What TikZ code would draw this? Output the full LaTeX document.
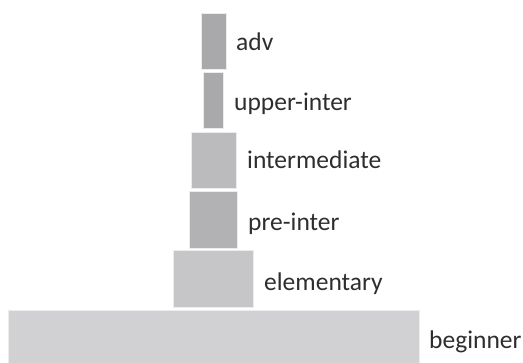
\documentclass[tikz,border=0pt]{standalone}
\usepackage{fontspec}
\setmainfont{Carlito}
\begin{document}
\begin{tikzpicture}[x=1bp,y=-1bp,
  blk/.style={draw=white!85!gray, line width=0.6bp, inner sep=0pt, outer sep=0pt},
  lbl/.style={anchor=base west, inner sep=0pt, text=black!82, font=\fontsize{25.5bp}{28bp}\selectfont}]
\useasboundingbox (0,0) rectangle (523,362);
\definecolor{cA}{HTML}{A9A9AB}
\definecolor{cB}{HTML}{BBBBBD}
\definecolor{cC}{HTML}{B2B2B4}
\definecolor{cD}{HTML}{C6C6C8}
\definecolor{cE}{HTML}{D1D1D3}
\filldraw[blk, fill=cA] (201,13) rectangle (226,69) coordinate (advbox);
\filldraw[blk, fill=cA] (203,72) rectangle (223,128) coordinate (upbox);
\filldraw[blk, fill=cB] (191,132) rectangle (236,188) coordinate (intbox);
\filldraw[blk, fill=cC] (189,191) rectangle (237,248) coordinate (prebox);
\filldraw[blk, fill=cD] (173,250) rectangle (253,307) coordinate (elbox);
\filldraw[blk, fill=cE] (8,310) rectangle (419,364) coordinate (begbox);
\node[lbl] (adv) at (236,50.5) {adv};
\node[lbl] (up) at (234,110.5) {upper-inter};
\node[lbl] (int) at (247,168.5) {intermediate};
\node[lbl] (pre) at (248,230) {pre-inter};
\node[lbl] (el) at (264,290) {elementary};
\node[lbl] (beg) at (429,348) {beginner};
\end{tikzpicture}
\end{document}
